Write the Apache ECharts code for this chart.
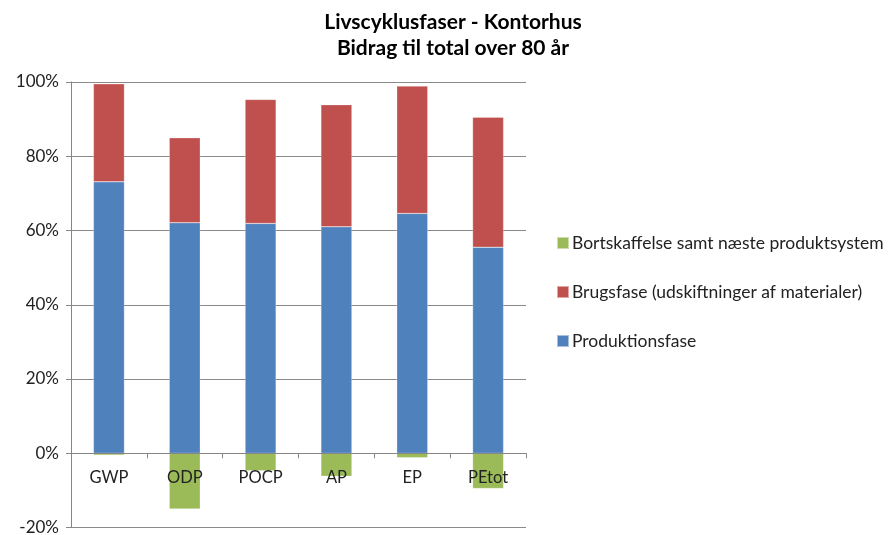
<!DOCTYPE html>
<html><head><meta charset="utf-8">
<script src="https://cdn.jsdelivr.net/npm/echarts@6/dist/echarts.min.js"></script>
<style>html,body{margin:0;padding:0;background:#fff}#c{width:889px;height:535px}</style>
</head><body><div id="c"></div>
<script>
const categories = ['GWP','ODP','POCP','AP','EP','PEtot'];
const produktion = [73.1, 62.1, 61.9, 61.0, 64.6, 55.5];
const brugsfase = [26.4, 22.9, 33.4, 32.9, 34.3, 35.0];
const bortskaffelse = [-0.5, -15.0, -4.7, -6.2, -1.2, -9.5];
const yTicks = {min: -20, max: 100, interval: 20};
const names = ['Produktionsfase','Brugsfase (udskiftninger af materialer)','Bortskaffelse samt næste produktsystem'];
const font = 'Lato, "Open Sans", sans-serif';
const W = 889, H = 535;
const gridPos = {left:71, right:363, top:82, bottom:7.5};
const gridHeight = H - gridPos.top - gridPos.bottom;
// put the category axis on the 0% line
const zeroOffset = -gridHeight * (0 - yTicks.min) / (yTicks.max - yTicks.min);
const chart = echarts.init(document.getElementById('c'), null, {renderer:'canvas'});
chart.setOption({
  animation:false,
  title:{text:'Livscyklusfaser - Kontorhus\nBidrag til total over 80 år', left:448, textAlign:'center', top:4,
    textStyle:{fontFamily:font, fontSize:21, fontWeight:'bold', color:'#000', lineHeight:26}},
  grid:Object.assign({containLabel:false, outerBoundsMode:'none'}, gridPos),
  legend:{orient:'vertical', left:551, top:229, itemWidth:12, itemHeight:12, itemGap:31, icon:'rect',
    data:[names[2],names[1],names[0]],
    textStyle:{fontFamily:font, fontSize:17.5, color:'#222', lineHeight:18, padding:[0,0,0,-2]}},
  xAxis:{type:'category', data:categories, position:'bottom', offset:zeroOffset, z:10,
    axisLine:{onZero:false, lineStyle:{color:'#868686', width:1}},
    axisTick:{show:true, alignWithLabel:false, length:5, inside:false, lineStyle:{color:'#868686'}},
    axisLabel:{margin:16, fontFamily:font, fontSize:16.5, color:'#222'}},
  yAxis:{type:'value', min:yTicks.min, max:yTicks.max, interval:yTicks.interval,
    axisLine:{show:true, lineStyle:{color:'#868686'}},
    axisTick:{show:true, length:5, lineStyle:{color:'#868686'}},
    splitLine:{lineStyle:{color:'#8a8a8a', width:1}},
    axisLabel:{formatter:'{value}%', fontFamily:font, fontSize:17, color:'#222', margin:12}},
  series:[
    {name:names[0], type:'bar', stack:'a', data:produktion, barWidth:31, itemStyle:{color:'#4f81bd', borderColor:'rgba(255,255,255,0.5)', borderWidth:0.5}},
    {name:names[1], type:'bar', stack:'a', data:brugsfase, barWidth:31, itemStyle:{color:'#c0504d', borderColor:'rgba(255,255,255,0.5)', borderWidth:0.5}},
    {name:names[2], type:'bar', stack:'a', data:bortskaffelse, barWidth:31, itemStyle:{color:'#9bbb59', borderColor:'rgba(255,255,255,0.5)', borderWidth:0.5}}
  ]
});
</script></body></html>
